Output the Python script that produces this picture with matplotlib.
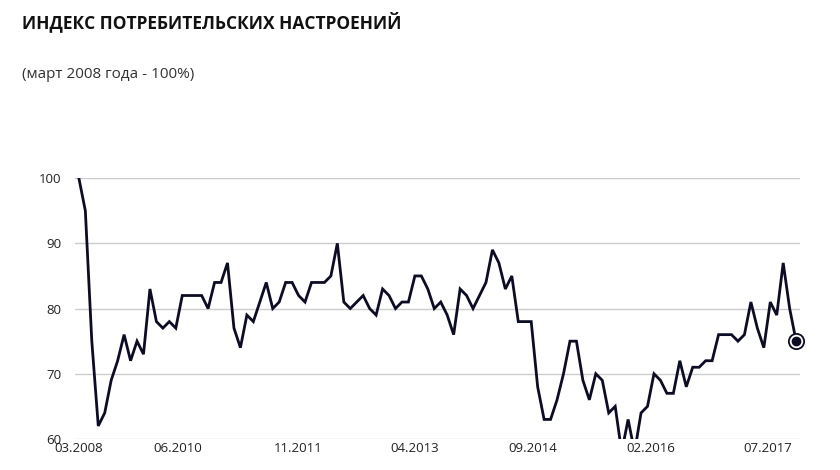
import matplotlib
matplotlib.use("Agg")
import matplotlib.pyplot as plt

values = [100,95,75,62,64,69,72,76,72,75,73,83,78,77,78,77,82,82,82,82,80,84,84,87,77,74,79,78,81,84,80,81,84,84,82,81,84,84,
          84,85,90,81,80,81,82,80,79,83,82,80,81,81,85,85,83,80,81,79,76,83,82,80,82,84,89,87,83,85,78,78,78,68,63,63,66,
          70,75,75,69,66,70,69,64,65,58,63,58,64,65,70,69,67,67,72,68,71,71,72,72,76,76,76,75,76,81,77,74,81,79,87,80,75]
tick_pos = [0, 15.3, 33.9, 52.0, 70.3, 88.5, 106.6]
tick_labels = ["03.2008", "06.2010", "11.2011", "04.2013", "09.2014", "02.2016", "07.2017"]
y_ticks = [60, 70, 80, 90, 100]

plt.rcParams['font.family'] = ['Open Sans', 'DejaVu Sans']
fig = plt.figure(figsize=(8.4, 4.7), dpi=100)
ax = fig.add_axes([75/840, 0.066, 725/840, 0.555])
x = list(range(len(values)))
col = '#0c0c24'
ax.plot(x, values, color=col, lw=2.0, solid_joinstyle='miter', clip_on=True)
ax.plot([x[-1]], [values[-1]], 'o', ms=11, mfc='white', mec=col, mew=1.3, clip_on=False, zorder=5)
ax.plot([x[-1]], [values[-1]], 'o', ms=6, color=col, clip_on=False, zorder=6)
ax.set_ylim(60, 100)
ax.set_xlim(-0.6, len(values) - 0.4)
ax.set_yticks(y_ticks)
ax.set_xticks(tick_pos)
ax.set_xticklabels(tick_labels)
ax.grid(axis='y', color='#cccccc', lw=1)
ax.set_axisbelow(True)
for s in ax.spines.values():
    s.set_visible(False)
ax.tick_params(length=0, labelsize=9.5, colors='#222222')
ax.tick_params(axis='y', pad=10)
ax.tick_params(axis='x', pad=2)
fig.text(22/840, 1-22/470, "ИНДЕКС ПОТРЕБИТЕЛЬСКИХ НАСТРОЕНИЙ", fontsize=12.5, fontweight='bold', va='center', color='#111111')
fig.text(22/840, 1-75/470, "(март 2008 года - 100%)", fontsize=11, va='center', color='#333333')
fig.savefig("out.png", dpi=100)
